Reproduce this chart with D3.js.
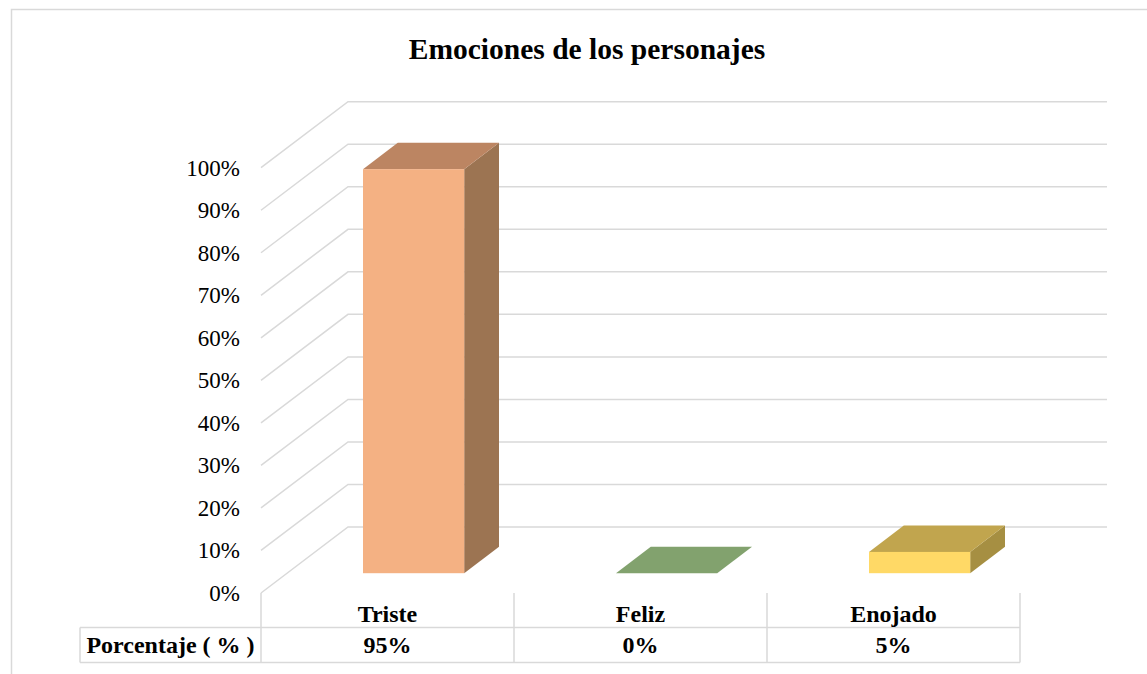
<!DOCTYPE html>
<html>
<head>
<meta charset="utf-8">
<script src="https://cdn.jsdelivr.net/npm/d3@7"></script>
<style>
  html, body { margin: 0; padding: 0; background: #ffffff; }
  svg { display: block; }
</style>
</head>
<body>
<svg id="chart" width="1147" height="674"></svg>
<script>
// ---- data ----
const title = "Emociones de los personajes";
const categories = ["Triste", "Feliz", "Enojado"];
const values = [0.95, 0.00, 0.05];
const valueLabels = ["95%", "0%", "5%"];
const rowHeader = "Porcentaje ( % )";
const yTicks = [0, 0.1, 0.2, 0.3, 0.4, 0.5, 0.6, 0.7, 0.8, 0.9, 1.0];
const frontColors = ["#f4b183", "#a9d18e", "#ffd966"];
const topColors = ["#bc8562", "#82a26e", "#c1a54e"];
const sideColors = ["#9c7452", "#6b8a5a", "#a68f42"];

// ---- layout ----
const svg = d3.select("#chart");
const font = "'Liberation Serif', 'Times New Roman', serif";
const gridColor = "#d9d9d9";

// chart frame
svg.append("rect").attr("x", 11.5).attr("y", 9.5).attr("width", 1200).attr("height", 700)
  .attr("fill", "#fff").attr("stroke", gridColor).attr("stroke-width", 1.5);

const x = d3.scaleBand().domain(categories).range([261, 1020]).paddingInner(0).paddingOuter(0);
const y = d3.scaleLinear().domain([0, 1]).range([593, 167.7]);
const depthDX = 87, depthDY = -66;
const backRight = 1107;

// gridlines: diagonal side wall + back wall
const grid = svg.append("g");
yTicks.forEach(t => {
  const y0 = y(t);
  grid.append("path")
    .attr("d", `M${x.range()[0]},${y0} L${x.range()[0] + depthDX},${y0 + depthDY} L${backRight},${y0 + depthDY}`)
    .attr("fill", "none").attr("stroke", gridColor).attr("stroke-width", 1.5);
});

// y axis labels
svg.append("g").selectAll("text").data(yTicks).join("text")
  .attr("x", 240).attr("y", d => y(d) + 8)
  .attr("text-anchor", "end")
  .attr("font-family", font).attr("font-size", 23).attr("fill", "#000")
  .text(d3.format(".0%"));

// bars (3D boxes)
const step = x.step();
const bw = step * 0.4;
const f0 = 0.3, f1 = 0.7;
const bars = svg.append("g");
categories.forEach((c, i) => {
  const v = values[i];
  const xl = x(c) + step * 0.3 + depthDX * f0;
  const xr = xl + bw;
  const yb = y(0) + depthDY * f0;
  const yt = y(v) + depthDY * f0;
  const ddx = depthDX * (f1 - f0), ddy = depthDY * (f1 - f0);
  if (v > 0) {
    bars.append("path")
      .attr("d", `M${xr},${yt} L${xr + ddx},${yt + ddy} L${xr + ddx},${yb + ddy} L${xr},${yb} Z`)
      .attr("fill", sideColors[i]);
  }
  bars.append("path")
    .attr("d", `M${xl},${yt} L${xl + ddx},${yt + ddy} L${xr + ddx},${yt + ddy} L${xr},${yt} Z`)
    .attr("fill", topColors[i]);
  if (v > 0) {
    bars.append("rect")
      .attr("x", xl).attr("y", yt).attr("width", bw).attr("height", yb - yt)
      .attr("fill", frontColors[i]);
  }
});

// data table
const tbl = svg.append("g");
const rowTop = 593, rowMid = 627.5, rowBot = 662.5, hdrLeft = 80;
const line = (x1, y1, x2, y2) => tbl.append("line")
  .attr("x1", x1).attr("y1", y1).attr("x2", x2).attr("y2", y2)
  .attr("stroke", gridColor).attr("stroke-width", 1.5);
line(hdrLeft, rowMid, x.range()[1], rowMid);
line(hdrLeft, rowBot, x.range()[1], rowBot);
line(hdrLeft, rowMid, hdrLeft, rowBot);
categories.forEach(c => line(x(c), rowTop, x(c), rowBot));
line(x.range()[1], rowTop, x.range()[1], rowBot);

tbl.selectAll("text.cat").data(categories).join("text").attr("class", "cat")
  .attr("x", d => x(d) + step / 2).attr("y", 622)
  .attr("text-anchor", "middle")
  .attr("font-family", font).attr("font-size", 24).attr("font-weight", "bold")
  .text(d => d);
tbl.selectAll("text.val").data(valueLabels).join("text").attr("class", "val")
  .attr("x", (d, i) => x(categories[i]) + step / 2).attr("y", 653)
  .attr("text-anchor", "middle")
  .attr("font-family", font).attr("font-size", 24).attr("font-weight", "bold")
  .text(d => d);
tbl.append("text")
  .attr("x", (hdrLeft + x.range()[0]) / 2).attr("y", 653)
  .attr("text-anchor", "middle")
  .attr("font-family", font).attr("font-size", 24).attr("font-weight", "bold")
  .text(rowHeader);

// title
svg.append("text")
  .attr("x", 587).attr("y", 59)
  .attr("text-anchor", "middle")
  .attr("font-family", font).attr("font-size", 29.5).attr("font-weight", "bold")
  .text(title);
</script>
</body>
</html>
